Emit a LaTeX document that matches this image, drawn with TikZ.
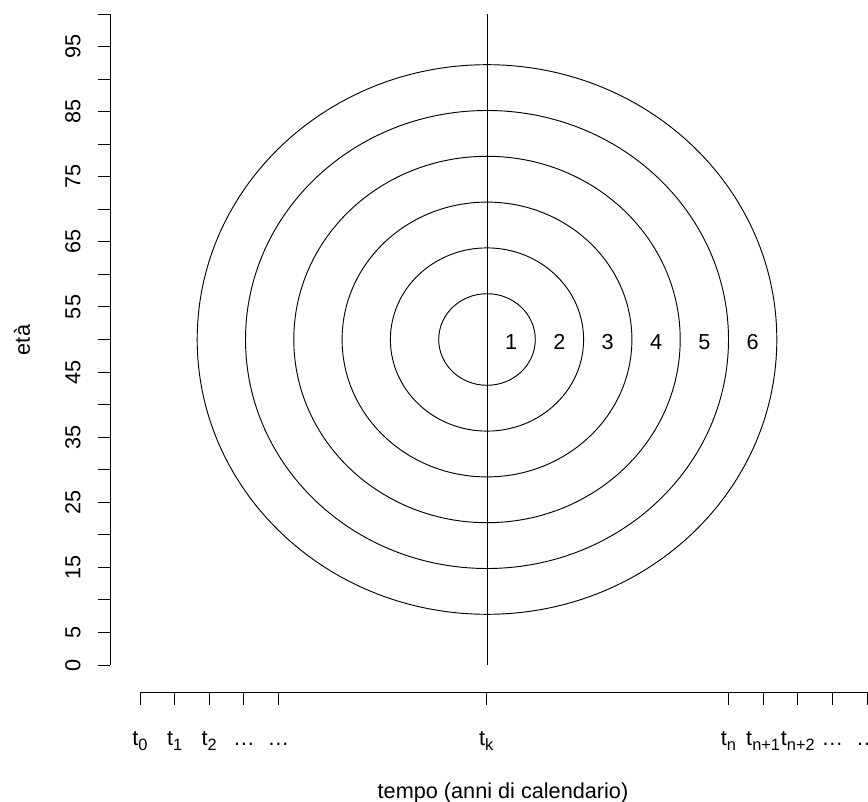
\documentclass[tikz,border=0pt]{standalone}
\usepackage{fontspec}
\setmainfont{Liberation Sans}
\usepackage{tikz}
\usetikzlibrary{positioning}
\newcommand{\tlab}[1]{t\raisebox{-0.45ex}{\fontsize{14}{16}\selectfont #1}}

\begin{document}
\begin{tikzpicture}[x=0.03cm,y=0.03cm,line width=0.8pt,
  every node/.style={font=\fontsize{18.5}{22}\selectfont,inner sep=0pt}]
  \useasboundingbox (0,0) rectangle (868,801); % 画像の大きさに合わせた枠
  \draw (110,136) -- (110,787); % 年齢の軸
  \foreach \a in {0,5,...,100}
    \draw (110,{136+6.51*\a}) -- (98,{136+6.51*\a}); % 5歳ごとの目盛り
  \foreach \a in {0,5,15,25,...,95}
    \node[rotate=90] (age\a) at (73,{136+6.51*\a}) {\a}; % 目盛りの数字
  \node[rotate=90] (eta) at (22,461) {età}; % 縦軸の名前
  \draw (487,136) -- (487,787); % t_k の位置を通る縦線
  \foreach \k in {1,...,6}{
    \draw (487,461.5) ellipse [x radius={48.3*\k}, y radius={45.8*\k}]; % 同心円
    \node (ring\k) at ({487+48.3*(\k-0.5)},459) {\k}; % 円と円の間の番号
  }
  \draw (140,109) -- (867,109); % 暦年の軸
  \foreach \i/\lab in {0/\tlab{0},1/\tlab{1},2/\tlab{2},3/\ldots,4/\ldots,10/\tlab{k},
      17/\tlab{n},18/\tlab{n+1},19/\tlab{n+2},20/\ldots,21/\ldots}{
    \draw ({140+34.62*\i},109) -- ({140+34.62*\i},96); % 目盛り
    \node[anchor=base] (t\i) at ({140+34.62*\i},56) {\lab}; % 時点の名前
  }
  \node[anchor=base] (xlab) at (503,3) {tempo (anni di calendario)}; % 横軸の名前
\end{tikzpicture}
\end{document}
